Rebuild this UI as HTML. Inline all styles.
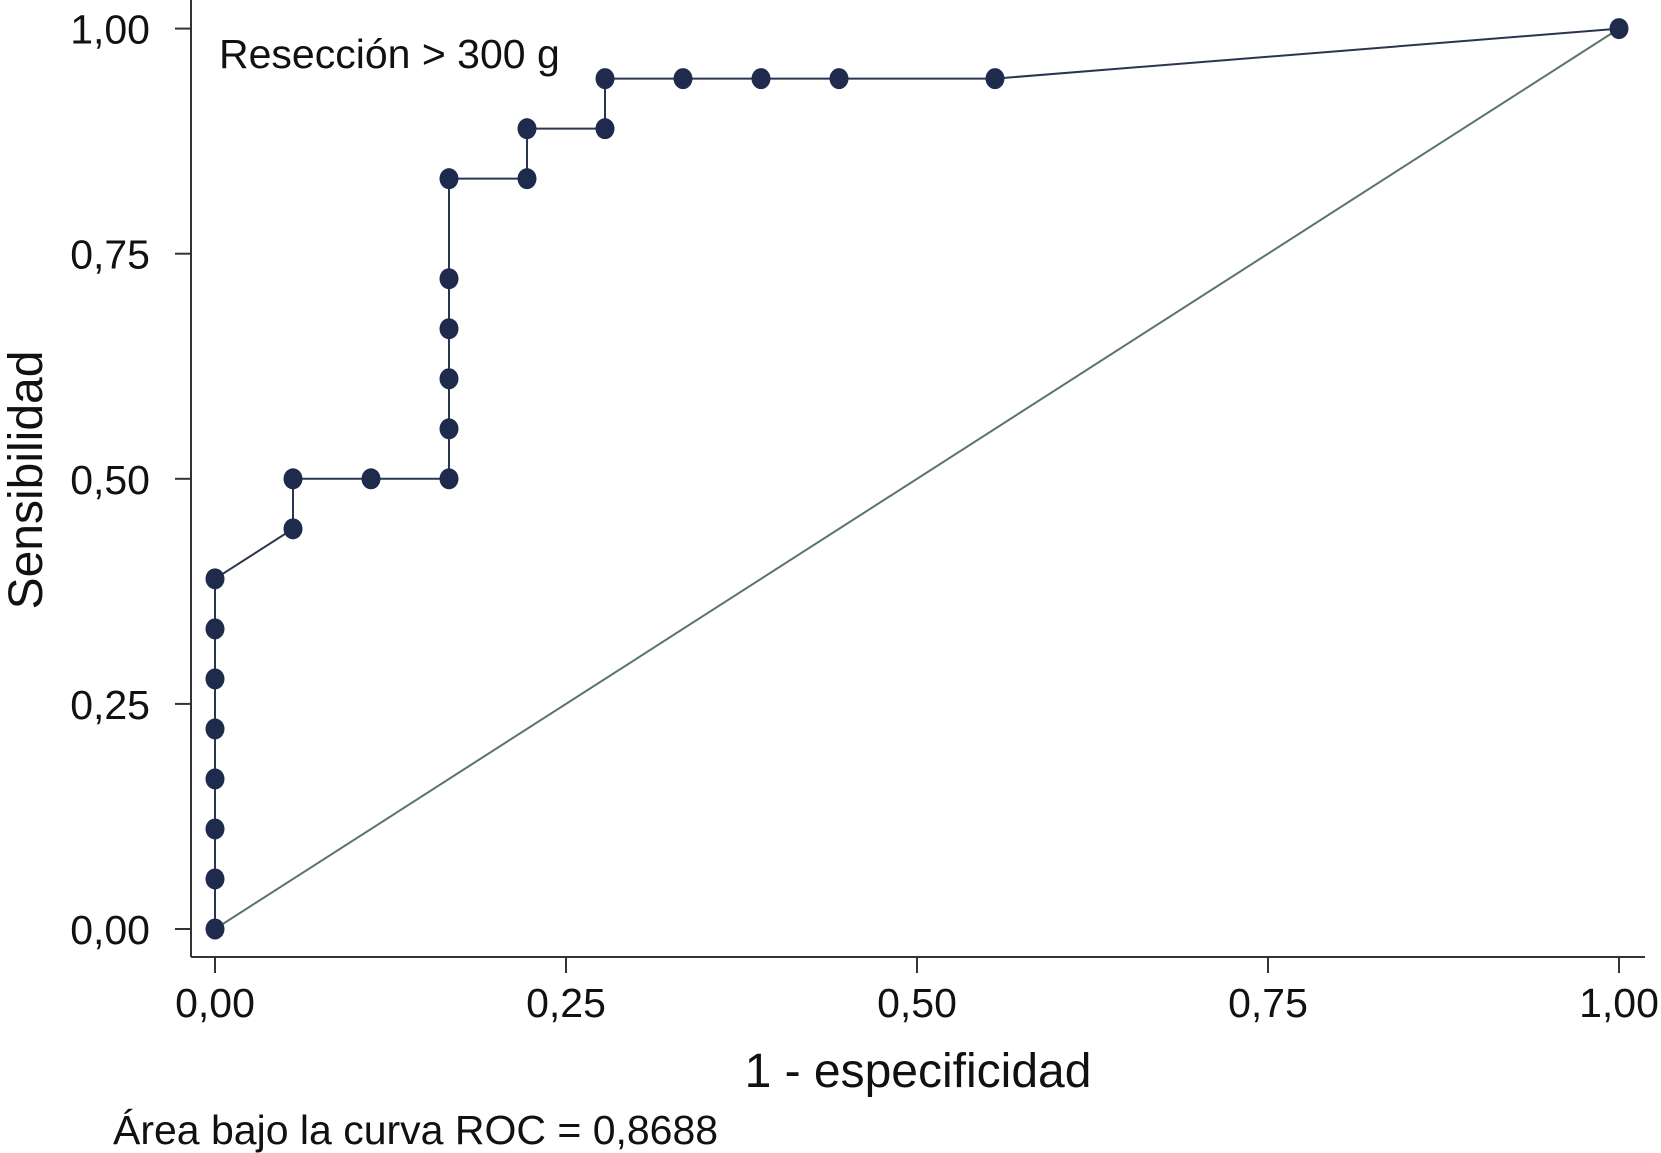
<!DOCTYPE html>
<html><head><meta charset="utf-8"><style>
html,body{margin:0;padding:0;background:#fff;}
svg{display:block;font-family:"Liberation Sans",sans-serif;}
</style></head><body>
<svg id="chart" width="1661" height="1153" viewBox="0 0 1661 1153">
<rect x="0" y="0" width="1661" height="1153" fill="#fff"/>
<g id="axes"></g>
<g id="marks"></g>
<rect x="206" y="14" width="372" height="72" fill="#fff"/>
<text x="219" y="68" font-size="41" fill="#111">Resección &gt; 300 g</text>
<text x="918" y="1087" font-size="48" text-anchor="middle" fill="#111">1 - especificidad</text>
<text transform="translate(42,480) rotate(-90)" font-size="48" text-anchor="middle" fill="#111">Sensibilidad</text>
<text x="113" y="1144" font-size="41" fill="#111">Área bajo la curva ROC = 0,8688</text>
</svg>
<script>
const fprValues=[0,0,0,0,0,0,0,0,1/18,1/18,2/18,3/18,3/18,3/18,3/18,3/18,3/18,4/18,4/18,5/18,5/18,6/18,7/18,8/18,10/18,1];
const tprValues=[0,1/18,2/18,3/18,4/18,5/18,6/18,7/18,8/18,9/18,9/18,9/18,10/18,11/18,12/18,13/18,15/18,15/18,16/18,16/18,17/18,17/18,17/18,17/18,17/18,1];
const tickValues=[0,0.25,0.5,0.75,1];
const tickLabels=["0,00","0,25","0,50","0,75","1,00"];
const NS="http://www.w3.org/2000/svg";
const X0=215,X1=1619,Y0=929,Y1=28.6;
function sx(v){return X0+v*(X1-X0);}
function sy(v){return Y0-v*(Y0-Y1);}
function mk(t,a,p){const e=document.createElementNS(NS,t);for(const k in a)e.setAttribute(k,a[k]);p.appendChild(e);return e;}
const axes=document.getElementById('axes'),marks=document.getElementById('marks');
let l=mk('line',{x1:191,y1:0,x2:191,y2:957,stroke:'#333','stroke-width':2},axes);


l=mk('line',{x1:191,y1:957,x2:1645,y2:957,stroke:'#333','stroke-width':2},axes);


tickValues.forEach((v,i)=>{
 let t=mk('line',{x1:175,y1:sy(v),x2:191,y2:sy(v),stroke:'#333','stroke-width':2},axes);
 
 
 let tx=mk('text',{x:150,y:sy(v)+15,'font-size':41,'text-anchor':'end',fill:'#111'},axes);
 tx.textContent=tickLabels[i];
 
 
 t=mk('line',{x1:sx(v),y1:957,x2:sx(v),y2:973,stroke:'#333','stroke-width':2},axes);
 
 
 tx=mk('text',{x:sx(v),y:1017,'font-size':41,'text-anchor':'middle',fill:'#111'},axes);
 tx.textContent=tickLabels[i];
 
 
});
const d=mk('line',{x1:sx(0),y1:sy(0),x2:sx(1),y2:sy(1),stroke:'#5b7566','stroke-width':2},marks);


const pts=fprValues.map((f,i)=>sx(f)+','+sy(tprValues[i])).join(' ');
const pl=mk('polyline',{points:pts,fill:'none',stroke:'#2a3550','stroke-width':2},marks);


fprValues.forEach((f,i)=>{
 const c=mk('ellipse',{cx:sx(f),cy:sy(tprValues[i]),rx:9.5,ry:10.5,fill:'#1e2b4d'},marks);
 
 
});
</script>
</body></html>
